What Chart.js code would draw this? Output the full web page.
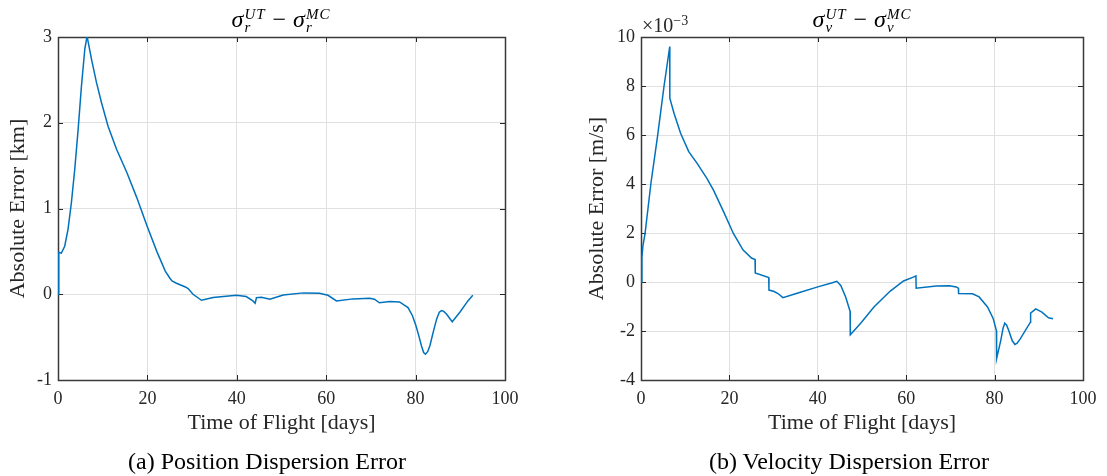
<!DOCTYPE html>
<html>
<head>
<meta charset="utf-8">
<script src="https://cdn.jsdelivr.net/npm/chart.js@4"></script>
<style>
  html,body{margin:0;padding:0;background:#fff;}
  #wrap{position:relative;width:1107px;height:476px;overflow:hidden;background:#fff;font-family:"Liberation Serif","Times New Roman",serif;}
  canvas{position:absolute;top:0;}
  .ttl{position:absolute;width:240px;text-align:center;font-size:24px;color:#000;white-space:nowrap;line-height:28px;}
  .ttl i{font-style:italic;}
  .ss{display:inline-flex;flex-direction:column;vertical-align:8px;line-height:13px;font-size:15px;font-style:italic;text-align:left;margin-left:1px;letter-spacing:1px;}
  .op{margin:0 7px;}
  .cap{position:absolute;width:400px;text-align:center;font-size:24px;color:#000;line-height:28px;white-space:nowrap;}
  .mult{position:absolute;font-size:20px;color:#262626;line-height:22px;white-space:nowrap;}
  .mult sup{font-size:14px;vertical-align:7px;line-height:0;}
</style>
</head>
<body>
<div id="wrap">
  <canvas id="c1" width="553" height="476" style="left:0px;width:553px;height:476px;"></canvas>
  <canvas id="c2" width="554" height="476" style="left:553px;width:554px;height:476px;"></canvas>
  <div class="ttl" style="left:161px;top:5px;"><i>σ</i><span class="ss"><span>UT</span><span>r</span></span><span class="op">−</span><i>σ</i><span class="ss"><span>MC</span><span>r</span></span></div>
  <div class="ttl" style="left:742px;top:5px;"><i>σ</i><span class="ss"><span>UT</span><span>v</span></span><span class="op">−</span><i>σ</i><span class="ss"><span>MC</span><span>v</span></span></div>
  <div class="mult" style="left:642px;top:14px;">×10<sup>−3</sup></div>
  <div class="cap" style="left:67px;top:447px;">(a) Position Dispersion Error</div>
  <div class="cap" style="left:649px;top:447px;">(b) Velocity Dispersion Error</div>
</div>
<script>
// ---- data ----
const posDays = [0, 0.15, 0.75, 1.5, 2.25, 3.0, 3.75, 4.5, 5.25, 6.0, 6.5, 7.5, 8.6, 9.75, 11.2, 13.1, 15.4, 17.6, 19.9, 22.1, 24.0, 25.0, 25.5, 26.5, 28.5, 29.1, 30.2, 32.1, 34.7, 39.9, 42.1, 43.6, 44.1, 44.4, 45.5, 47.4, 50.4, 54.9, 58.5, 60.4, 62.3, 66.0, 69.7, 70.8, 71.9, 74.2, 76.4, 78.3, 79.3, 80.1, 80.8, 81.3, 81.8, 82.2, 82.7, 83.2, 83.9, 84.7, 85.3, 85.8, 86.3, 86.9, 88.2, 89.9, 91.7, 92.8];
const posErr  = [0, 0.49, 0.48, 0.56, 0.76, 1.07, 1.46, 1.92, 2.43, 2.86, 3.01, 2.74, 2.47, 2.23, 1.96, 1.69, 1.42, 1.13, 0.80, 0.50, 0.27, 0.19, 0.155, 0.128, 0.085, 0.066, 0.0, -0.07, -0.039, -0.012, -0.027, -0.078, -0.105, -0.039, -0.035, -0.058, -0.008, 0.016, 0.012, -0.012, -0.078, -0.054, -0.047, -0.058, -0.1, -0.085, -0.089, -0.155, -0.25, -0.37, -0.5, -0.6, -0.68, -0.70, -0.67, -0.60, -0.45, -0.29, -0.21, -0.19, -0.2, -0.23, -0.32, -0.21, -0.078, -0.012];

// velocity error in units of 1e-3 m/s
const velDays = [0, 0.2, 0.45, 0.9, 2.24, 3.73, 5.2, 6.5, 6.52, 7.47, 8.96, 10.8, 12.7, 14.9, 16.4, 18.7, 20.9, 23.1, 25.0, 25.8, 25.85, 28.9, 28.95, 30.0, 31.0, 32.1, 35.5, 40.0, 43.3, 44.3, 45.2, 46.3, 47.3, 47.35, 49.7, 52.7, 56.4, 59.4, 61.6, 62.2, 62.25, 66.8, 69.8, 71.3, 71.8, 71.85, 75.0, 76.5, 78.4, 79.7, 80.4, 80.45, 81.4, 81.9, 82.3, 82.7, 83.2, 84.0, 84.6, 85.1, 85.8, 88.1, 88.15, 89.3, 90.7, 92.2, 93.2];
const velErr  = [0, 1.0, 1.5, 1.95, 4.02, 5.93, 7.98, 9.61, 7.5, 6.89, 6.07, 5.32, 4.84, 4.23, 3.75, 2.86, 1.98, 1.30, 0.98, 0.92, 0.37, 0.18, -0.33, -0.38, -0.47, -0.64, -0.45, -0.2, -0.03, 0.03, -0.14, -0.61, -1.19, -2.15, -1.68, -1.02, -0.37, 0.04, 0.2, 0.25, -0.25, -0.16, -0.15, -0.2, -0.25, -0.47, -0.48, -0.61, -1.02, -1.5, -1.98, -3.13, -2.38, -1.9, -1.68, -1.75, -1.98, -2.4, -2.55, -2.5, -2.32, -1.64, -1.27, -1.1, -1.23, -1.46, -1.5];

const xTicks = [0, 20, 40, 60, 80, 100];
const posTicks = [-1, 0, 1, 2, 3];
const velTicks = [-4, -2, 0, 2, 4, 6, 8, 10];

const xLabel = 'Time of Flight [days]';
const posYLabel = 'Absolute Error [km]';
const velYLabel = 'Absolute Error [m/s]';

// ---- styling ----
const LINE = '#0072BD';
const AXIS = '#262626';
const GRID = '#e0e0e0';
const FONT = '"Liberation Serif", "Times New Roman", serif';

const boxPlugin = {
  id: 'matlabBox',
  beforeDatasetsDraw(chart) {
    const {ctx, chartArea: a, scales} = chart;
    ctx.save();
    ctx.strokeStyle = AXIS;
    ctx.lineWidth = 1;
    const L = 5;
    ctx.beginPath();
    scales.x.ticks.forEach(t => {
      const px = Math.round(scales.x.getPixelForValue(t.value)) + 0.5;
      ctx.moveTo(px, a.bottom); ctx.lineTo(px, a.bottom - L);
      ctx.moveTo(px, a.top); ctx.lineTo(px, a.top + L);
    });
    scales.y.ticks.forEach(t => {
      const py = Math.round(scales.y.getPixelForValue(t.value)) + 0.5;
      ctx.moveTo(a.left, py); ctx.lineTo(a.left + L, py);
      ctx.moveTo(a.right, py); ctx.lineTo(a.right - L, py);
    });
    ctx.stroke();
    ctx.lineWidth = 1.5;
    ctx.strokeStyle = '#3a3a3a';
    ctx.strokeRect(Math.round(a.left) + 0.5, Math.round(a.top) + 0.5, Math.round(a.right - a.left), Math.round(a.bottom - a.top));
    ctx.restore();
  }
};

function makeChart(id, days, vals, yTicks, yLabel, yWidth, padRight, yTitlePad) {
  const pts = days.map((d, i) => ({x: d, y: vals[i]}));
  return new Chart(document.getElementById(id), {
    type: 'line',
    data: {datasets: [{data: pts, borderColor: LINE, borderWidth: 1.5, pointRadius: 0, tension: 0, fill: false}]},
    options: {
      responsive: false,
      devicePixelRatio: 1,
      animation: false,
      layout: {padding: {left: 0, right: padRight, top: 37, bottom: 0}},
      plugins: {legend: {display: false}, tooltip: {enabled: false}, title: {display: false}},
      scales: {
        x: {
          type: 'linear', min: xTicks[0], max: xTicks[xTicks.length - 1],
          afterBuildTicks: s => { s.ticks = xTicks.map(v => ({value: v})); },
          afterFit: s => { s.height = 96; },
          grid: {color: GRID, lineWidth: 1, drawTicks: false},
          border: {display: false},
          ticks: {color: AXIS, font: {family: FONT, size: 18}, padding: 8, maxRotation: 0, callback: v => String(v)},
          title: {display: true, text: xLabel, color: AXIS, font: {family: FONT, size: 22}, padding: {top: 0, bottom: 40}}
        },
        y: {
          type: 'linear', min: yTicks[0], max: yTicks[yTicks.length - 1],
          afterBuildTicks: s => { s.ticks = yTicks.map(v => ({value: v})); },
          afterFit: s => { s.width = yWidth; },
          grid: {color: GRID, lineWidth: 1, drawTicks: false},
          border: {display: false},
          ticks: {color: AXIS, font: {family: FONT, size: 18}, padding: 6, callback: v => String(v)},
          title: {display: true, text: yLabel, color: AXIS, font: {family: FONT, size: 22}, padding: {top: yTitlePad, bottom: 0}}
        }
      }
    },
    plugins: [boxPlugin]
  });
}

makeChart('c1', posDays, posErr, posTicks, posYLabel, 58, 48, 5);
makeChart('c2', velDays, velErr, velTicks, velYLabel, 88, 24, 31);
</script>
</body>
</html>
